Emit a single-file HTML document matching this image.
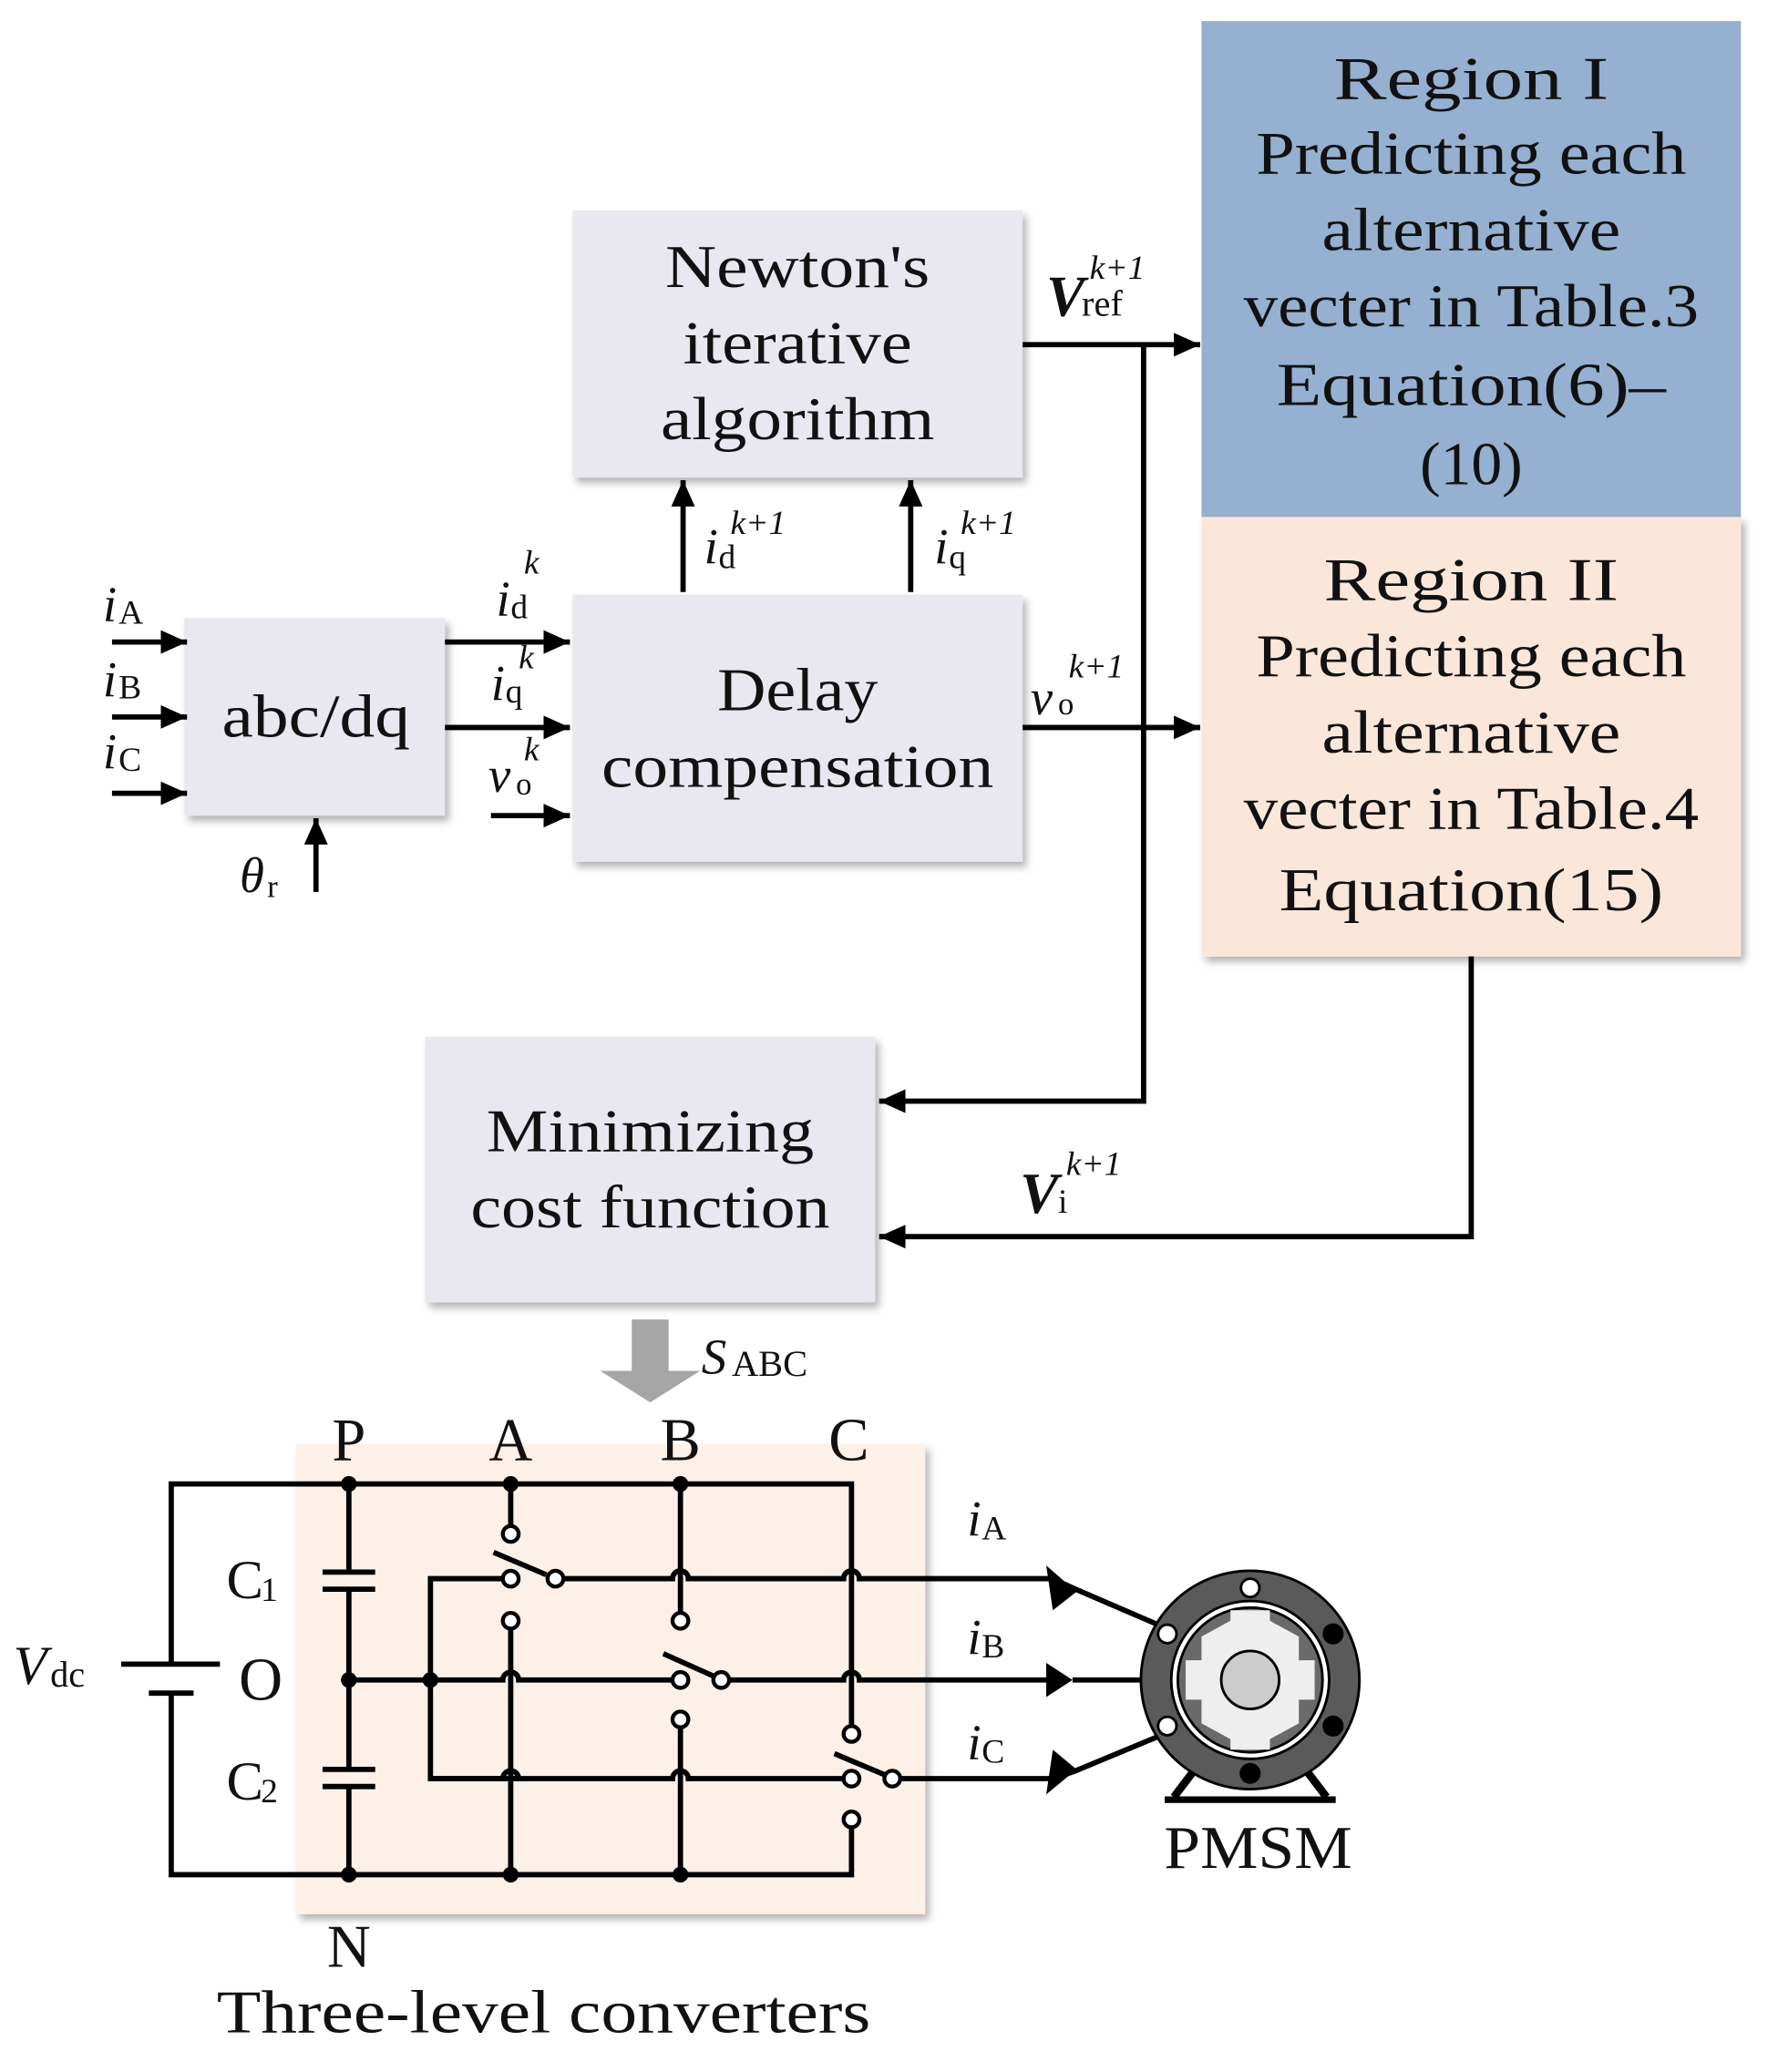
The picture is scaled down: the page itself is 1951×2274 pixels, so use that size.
<!DOCTYPE html>
<html><head><meta charset="utf-8"><style>
html,body{margin:0;padding:0;background:#fff;}
svg{display:block;}
text{font-family:"Liberation Serif",serif;fill:#111;}
</style></head><body>
<svg width="1951" height="2274" viewBox="0 0 1351 1575" xmlns="http://www.w3.org/2000/svg">
<defs>
<filter id="sh" x="-10%" y="-10%" width="130%" height="130%"><feDropShadow dx="3" dy="4" stdDeviation="3" flood-color="#000" flood-opacity="0.3"/></filter>
<marker id="ah" markerWidth="22" markerHeight="20" refX="20" refY="9" orient="auto" markerUnits="userSpaceOnUse"><path d="M0,0 L20,9 L0,18z"/></marker>
</defs>
<rect x="0" y="0" width="1351" height="1575" fill="#fff"/>
<g fill="#e9e7ef" filter="url(#sh)">
<rect x="435" y="160" width="342" height="203"/>
<rect x="140" y="470" width="198" height="150"/>
<rect x="435" y="452" width="342" height="203"/>
<rect x="323" y="788" width="342" height="202"/>
</g>
<rect x="913" y="16" width="410" height="377" fill="#95b0d0"/>
<rect x="913" y="393" width="410" height="334" fill="#fbe6da" filter="url(#sh)"/>
<rect x="225" y="1098" width="478" height="357" fill="#fdf0e6" filter="url(#sh)"/>
<g font-size="46" text-anchor="middle">
<text x="606" y="218" textLength="201" lengthAdjust="spacingAndGlyphs">Newton's</text>
<text x="606" y="276" textLength="174" lengthAdjust="spacingAndGlyphs">iterative</text>
<text x="606" y="334" textLength="208" lengthAdjust="spacingAndGlyphs">algorithm</text>
<text x="240" y="560" textLength="143" lengthAdjust="spacingAndGlyphs">abc/dq</text>
<text x="606" y="540" textLength="122" lengthAdjust="spacingAndGlyphs">Delay</text>
<text x="606" y="598" textLength="298" lengthAdjust="spacingAndGlyphs">compensation</text>
<text x="494" y="875" textLength="249" lengthAdjust="spacingAndGlyphs">Minimizing</text>
<text x="494" y="933" textLength="273" lengthAdjust="spacingAndGlyphs">cost function</text>
<text x="1118" y="75" textLength="209" lengthAdjust="spacingAndGlyphs">Region I</text>
<text x="1118" y="132" textLength="327" lengthAdjust="spacingAndGlyphs">Predicting each</text>
<text x="1118" y="190" textLength="227" lengthAdjust="spacingAndGlyphs">alternative</text>
<text x="1118" y="248" textLength="346" lengthAdjust="spacingAndGlyphs">vecter in Table.3</text>
<text x="1118" y="308" textLength="296" lengthAdjust="spacingAndGlyphs">Equation(6)–</text>
<text x="1118" y="368" textLength="78" lengthAdjust="spacingAndGlyphs">(10)</text>
<text x="1118" y="456" textLength="224" lengthAdjust="spacingAndGlyphs">Region II</text>
<text x="1118" y="514" textLength="327" lengthAdjust="spacingAndGlyphs">Predicting each</text>
<text x="1118" y="572" textLength="227" lengthAdjust="spacingAndGlyphs">alternative</text>
<text x="1118" y="630" textLength="346" lengthAdjust="spacingAndGlyphs">vecter in Table.4</text>
<text x="1118" y="692" textLength="292" lengthAdjust="spacingAndGlyphs">Equation(15)</text>
<text x="265" y="1110">P</text><text x="388" y="1110">A</text><text x="517" y="1110">B</text><text x="645" y="1110">C</text>
<text x="265" y="1495">N</text>
<text x="413" y="1545" textLength="497" lengthAdjust="spacingAndGlyphs">Three-level converters</text>
<text x="956" y="1420" textLength="143" lengthAdjust="spacingAndGlyphs">PMSM</text>
<text x="198" y="1292">O</text>
</g>
<g stroke="#000" stroke-width="4" fill="none" marker-end="url(#ah)">
<line x1="777" y1="262" x2="912" y2="262"/>
<polyline points="869,262 869,837 668,837"/>
<line x1="777" y1="553" x2="912" y2="553"/>
<polyline points="1118,727 1118,940 668,940"/>
<line x1="519" y1="450" x2="519" y2="365"/>
<line x1="692" y1="450" x2="692" y2="365"/>
<line x1="85" y1="488" x2="142" y2="488"/>
<line x1="85" y1="545" x2="142" y2="545"/>
<line x1="85" y1="603" x2="142" y2="603"/>
<line x1="338" y1="488" x2="433" y2="488"/>
<line x1="338" y1="553" x2="433" y2="553"/>
<line x1="373" y1="620" x2="433" y2="620"/>
<line x1="240" y1="678" x2="240" y2="622"/>
</g>
<path d="M480,1003 H508 V1042 H532 L494,1066 L456,1042 H480z" fill="#a6a6a6"/>
<g font-style="italic" font-size="38">
<text x="795" y="240" font-weight="bold" font-size="44">V</text><text x="828" y="212" font-size="26">k+1</text><text x="822" y="240" font-size="28" font-style="normal">ref</text>
<text x="783" y="543">v</text><text x="804" y="543" font-size="24" font-style="normal">o</text><text x="812" y="515" font-size="26">k+1</text>
<text x="775" y="922" font-weight="bold" font-size="44">V</text><text x="804" y="922" font-size="26" font-style="normal">i</text><text x="810" y="893" font-size="26">k+1</text>
<text x="535" y="428">i</text><text x="546" y="432" font-size="26" font-style="normal">d</text><text x="555" y="406" font-size="26">k+1</text>
<text x="710" y="428">i</text><text x="721" y="432" font-size="26" font-style="normal">q</text><text x="730" y="406" font-size="26">k+1</text>
<text x="78" y="472">i</text><text x="90" y="474" font-size="26" font-style="normal">A</text>
<text x="78" y="529">i</text><text x="90" y="531" font-size="26" font-style="normal">B</text>
<text x="78" y="584">i</text><text x="90" y="586" font-size="26" font-style="normal">C</text>
<text x="377" y="468">i</text><text x="388" y="470" font-size="26" font-style="normal">d</text><text x="398" y="436" font-size="26">k</text>
<text x="373" y="532">i</text><text x="384" y="534" font-size="26" font-style="normal">q</text><text x="394" y="508" font-size="26">k</text>
<text x="371" y="602">v</text><text x="392" y="604" font-size="24" font-style="normal">o</text><text x="398" y="578" font-size="26">k</text>
<text x="182" y="678">θ</text><text x="203" y="682" font-size="24" font-style="normal">r</text>
<text x="533" y="1044">S</text><text x="556" y="1046" font-size="28" font-style="normal">ABC</text>
<text x="735" y="1167">i</text><text x="746" y="1170" font-size="26" font-style="normal">A</text>
<text x="735" y="1257">i</text><text x="746" y="1260" font-size="26" font-style="normal">B</text>
<text x="735" y="1337">i</text><text x="746" y="1340" font-size="26" font-style="normal">C</text>
<text x="10" y="1280" font-size="42">V</text><text x="38" y="1282" font-size="28" font-style="normal">dc</text>
</g>
<g font-size="42"><text x="172" y="1215">C</text><text x="198" y="1217" font-size="26">1</text>
<text x="172" y="1368">C</text><text x="198" y="1370" font-size="26">2</text></g>
<g stroke="#000" stroke-width="4" fill="none">
<polyline points="130,1265 130,1128 647,1128 647,1318"/>
<polyline points="130,1287 130,1425 647,1425 647,1383"/>
<line x1="92" y1="1265" x2="167" y2="1265"/>
<line x1="113" y1="1287" x2="147" y2="1287"/>
<line x1="265" y1="1128" x2="265" y2="1195"/><line x1="245" y1="1195" x2="285" y2="1195"/><line x1="245" y1="1208" x2="285" y2="1208"/>
<line x1="265" y1="1208" x2="265" y2="1345"/><line x1="245" y1="1345" x2="285" y2="1345"/><line x1="245" y1="1358" x2="285" y2="1358"/>
<line x1="265" y1="1358" x2="265" y2="1425"/>
<polyline points="327,1277 327,1200 382,1200"/>
<polyline points="327,1277 327,1352 382,1352 394,1352"/>
<line x1="388" y1="1128" x2="388" y2="1160"/><line x1="388" y1="1238" x2="388" y2="1425"/>
<line x1="375" y1="1180" x2="415" y2="1197"/>
<line x1="517" y1="1128" x2="517" y2="1226"/><line x1="517" y1="1313" x2="517" y2="1425"/>
<line x1="504" y1="1257" x2="542" y2="1274"/>
<line x1="634" y1="1333" x2="672" y2="1349"/>
<path d="M428,1200 H511 a6,6 0 0 1 12,0 H641 a6,6 0 0 1 12,0 H800"/>
<path d="M265,1277 H382 a6,6 0 0 1 12,0 H511"/>
<path d="M554,1277 H641 a6,6 0 0 1 12,0 H800"/>
<path d="M327,1352 H382 a6,6 0 0 1 12,0 H511 a6,6 0 0 1 12,0 H641"/>
<path d="M684,1352 H800"/>
<line x1="815" y1="1207" x2="880" y2="1235"/>
<line x1="815" y1="1277" x2="870" y2="1277"/>
<line x1="815" y1="1347" x2="880" y2="1320"/>
<line x1="800" y1="1200" x2="815" y2="1207"/><line x1="800" y1="1352" x2="815" y2="1347"/>
</g>
<g fill="#000">
<path d="M795,1190 L818,1210 L800,1224z"/>
<path d="M795,1264 L815,1277 L795,1290z"/>
<path d="M795,1364 L818,1345 L800,1330z"/>
<circle cx="265" cy="1128" r="6"/><circle cx="388" cy="1128" r="6"/><circle cx="517" cy="1128" r="6"/>
<circle cx="265" cy="1425" r="6"/><circle cx="388" cy="1425" r="6"/><circle cx="517" cy="1425" r="6"/>
<circle cx="265" cy="1277" r="6"/><circle cx="327" cy="1277" r="6"/>
</g>
<g fill="#fff" stroke="#000" stroke-width="3">
<circle cx="388" cy="1166" r="6"/><circle cx="388" cy="1200" r="6"/><circle cx="422" cy="1200" r="6"/><circle cx="388" cy="1232" r="6"/>
<circle cx="517" cy="1232" r="6"/><circle cx="517" cy="1277" r="6"/><circle cx="548" cy="1277" r="6"/><circle cx="517" cy="1307" r="6"/>
<circle cx="647" cy="1318" r="6"/><circle cx="647" cy="1352" r="6"/><circle cx="678" cy="1352" r="6"/><circle cx="647" cy="1383" r="6"/>
</g>
<g stroke="#000" stroke-width="2">
<line x1="892" y1="1366" x2="908" y2="1345" stroke-width="6"/><line x1="1008" y1="1366" x2="992" y2="1345" stroke-width="6"/>
<line x1="885" y1="1368" x2="1015" y2="1368" stroke-width="5"/>
<circle cx="950" cy="1277" r="83" fill="#5a5a5a"/>
<circle cx="950" cy="1277" r="60" fill="#fff"/>
<circle cx="950" cy="1277" r="55" fill="#6a6a6a"/>
<path d="M935,1224 h30 v8 l22,12 v18 h12 v30 h-12 v18 l-22,12 v8 h-30 v-8 l-22,-12 v-18 h-12 v-30 h12 v-18 l22,-12z" fill="#eee" stroke="none"/>
<circle cx="950" cy="1277" r="22" fill="#ccc"/>
<circle cx="950" cy="1207" r="7" fill="#fff"/><circle cx="950" cy="1348" r="7" fill="#000"/>
<circle cx="887" cy="1242" r="7" fill="#fff"/><circle cx="887" cy="1312" r="7" fill="#fff"/>
<circle cx="1013" cy="1242" r="7" fill="#000"/><circle cx="1013" cy="1312" r="7" fill="#000"/>
</g>
</svg>
</body></html>
